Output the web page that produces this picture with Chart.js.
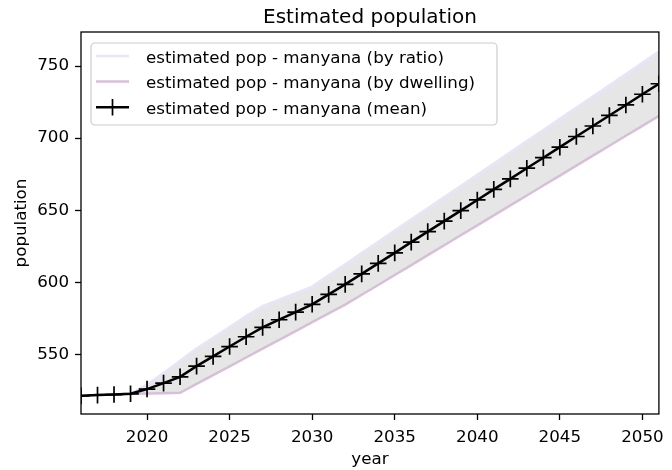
<!DOCTYPE html>
<html lang="en">
<head>
<meta charset="UTF-8">
<title>Estimated population</title>
<script src="https://cdn.jsdelivr.net/npm/chart.js"></script>
<style>
  html, body { margin: 0; padding: 0; background: #fff; }
</style>
</head>
<body>
<canvas id="popChart" width="672" height="470" style="width:672px;height:470px;display:block"></canvas>
<script>
// years on the x axis
const years = [2016, 2017, 2018, 2019, 2020, 2021, 2022, 2023, 2024, 2025, 2026, 2027,
               2028, 2029, 2030, 2031, 2032, 2033, 2034, 2035, 2036, 2037, 2038, 2039,
               2040, 2041, 2042, 2043, 2044, 2045, 2046, 2047, 2048, 2049, 2050, 2051];

// estimated pop - manyana (by ratio)
const byRatio = [521.2, 521.7, 522.1, 522.6, 529.0, 537.0, 545.5, 554.0, 561.5, 569.0, 576.5, 583.5,
                 588.0, 592.5, 597.0, 604.8, 612.5, 620.3, 628.0, 635.8, 643.6, 651.3, 659.1, 666.8,
                 674.6, 682.4, 690.1, 697.9, 705.6, 713.4, 721.2, 728.9, 736.7, 744.4, 752.2, 760.0];

// estimated pop - manyana (by dwelling)
const byDwelling = [521.2, 521.7, 522.1, 522.6, 522.8, 523.0, 523.3, 529.5, 535.6, 541.7, 547.8, 553.9,
                    560.0, 566.1, 572.3, 578.4, 584.5, 591.3, 598.1, 605.0, 611.9, 618.8, 625.7, 632.6,
                    639.5, 646.4, 653.3, 660.2, 667.1, 674.0, 680.9, 687.8, 694.7, 701.6, 708.5, 715.4];

// estimated pop - manyana (mean)
const meanPop = [521.2, 521.7, 522.1, 522.6, 525.9, 530.0, 534.4, 541.8, 548.6, 555.4, 562.2, 568.7,
                 574.0, 579.3, 584.7, 591.6, 598.5, 605.8, 613.1, 620.4, 627.8, 635.1, 642.4, 649.7,
                 657.1, 664.4, 671.7, 679.1, 686.4, 693.7, 701.1, 708.4, 715.7, 723.0, 730.4, 737.7];

const xTicks = [2020, 2025, 2030, 2035, 2040, 2045, 2050];
const yTicks = [550, 600, 650, 700, 750];

const seriesLabels = [
  'estimated pop - manyana (by ratio)',
  'estimated pop - manyana (by dwelling)',
  'estimated pop - manyana (mean)'
];

const toPoints = arr => years.map((yr, i) => ({ x: yr, y: arr[i] }));

const FONT = 'DejaVu Sans';

// matplotlib style frame around the axes
const axesFrame = {
  id: 'axesFrame',
  afterDraw(chart) {
    const a = chart.chartArea;
    const ctx = chart.ctx;
    ctx.save();
    ctx.strokeStyle = '#000';
    ctx.lineWidth = 1.3;
    ctx.strokeRect(a.left, a.top, a.right - a.left, a.bottom - a.top);
    ctx.restore();
  }
};

// legend box inside the axes, upper left
const insideLegend = {
  id: 'insideLegend',
  afterDraw(chart) {
    const a = chart.chartArea;
    const ctx = chart.ctx;
    const bx = a.left + 10, by = a.top + 11, bw = 406, bh = 82;
    ctx.save();
    ctx.beginPath();
    ctx.roundRect(bx, by, bw, bh, 4);
    ctx.fillStyle = 'rgba(255,255,255,0.8)';
    ctx.fill();
    ctx.strokeStyle = '#cccccc';
    ctx.lineWidth = 1.2;
    ctx.stroke();

    ctx.font = '16.7px "' + FONT + '"';
    ctx.textBaseline = 'alphabetic';
    ctx.textAlign = 'left';
    chart.data.datasets.forEach((ds, i) => {
      const cy = by + 13 + i * 25.6;
      const hx0 = bx + 5, hx1 = bx + 38;
      ctx.beginPath();
      ctx.strokeStyle = ds.borderColor;
      ctx.lineWidth = ds.borderWidth;
      ctx.moveTo(hx0, cy);
      ctx.lineTo(hx1, cy);
      ctx.stroke();
      if (ds.pointStyle === 'cross') {
        const cx = (hx0 + hx1) / 2, r = ds.pointRadius;
        ctx.beginPath();
        ctx.lineWidth = ds.pointBorderWidth;
        ctx.moveTo(cx - r, cy); ctx.lineTo(cx + r, cy);
        ctx.moveTo(cx, cy - r); ctx.lineTo(cx, cy + r);
        ctx.stroke();
      }
      ctx.fillStyle = '#000';
      ctx.fillText(ds.label, bx + 55, cy + 6.8);
    });
    ctx.restore();
  }
};

const ctx = document.getElementById('popChart').getContext('2d');
new Chart(ctx, {
  type: 'line',
  data: {
    datasets: [
      {
        label: seriesLabels[0],
        data: toPoints(byRatio),
        borderColor: '#e6e6fa',
        borderWidth: 2.5,
        pointRadius: 0,
        fill: 1,
        backgroundColor: 'rgba(128,128,128,0.2)',
        order: 1
      },
      {
        label: seriesLabels[1],
        data: toPoints(byDwelling),
        borderColor: '#d8bfd8',
        borderWidth: 2.5,
        pointRadius: 0,
        fill: false,
        order: 2
      },
      {
        label: seriesLabels[2],
        data: toPoints(meanPop),
        borderColor: '#000000',
        borderWidth: 2.5,
        pointStyle: 'cross',
        pointRadius: 8.3,
        pointBorderWidth: 1.7,
        pointBorderColor: '#000000',
        pointHoverRadius: 8.3,
        fill: false,
        order: 0
      }
    ]
  },
  options: {
    responsive: false,
    animation: false,
    events: [],
    layout: { padding: { top: 0, right: 5, bottom: 0, left: 0 } },
    plugins: {
      legend: { display: false },
      tooltip: { enabled: false },
      filler: { drawTime: 'beforeDatasetsDraw' },
      title: {
        display: true,
        text: 'Estimated population',
        fullSize: false,
        color: '#000',
        font: { family: FONT, size: 20, weight: 'normal' },
        padding: { top: 6, bottom: 2 }
      }
    },
    scales: {
      x: {
        type: 'linear',
        min: 2016,
        max: 2051,
        afterBuildTicks: s => { s.ticks = xTicks.map(v => ({ value: v })); },
        afterFit: s => { s.height = 56; },
        grid: { drawOnChartArea: false, drawTicks: true, tickLength: 6, tickWidth: 1.3, tickColor: '#000' },
        border: { display: false },
        ticks: {
          color: '#000',
          padding: 8,
          maxRotation: 0,
          autoSkip: false,
          font: { family: FONT, size: 16.7 },
          callback: v => String(v)
        },
        title: {
          display: true,
          text: 'year',
          color: '#000',
          font: { family: FONT, size: 16.7 },
          padding: { top: 0, bottom: 0 }
        }
      },
      y: {
        type: 'linear',
        min: 508.6,
        max: 773.6,
        afterBuildTicks: s => { s.ticks = yTicks.map(v => ({ value: v })); },
        afterFit: s => { s.width = 81; },
        grid: { drawOnChartArea: false, drawTicks: true, tickLength: 6, tickWidth: 1.3, tickColor: '#000' },
        border: { display: false },
        ticks: {
          color: '#000',
          padding: 6,
          autoSkip: false,
          font: { family: FONT, size: 16.7 },
          callback: v => String(v)
        },
        title: {
          display: true,
          text: 'population',
          color: '#000',
          font: { family: FONT, size: 16.7 },
          padding: { top: 12, bottom: 0 }
        }
      }
    }
  },
  plugins: [axesFrame, insideLegend]
});
</script>
</body>
</html>
